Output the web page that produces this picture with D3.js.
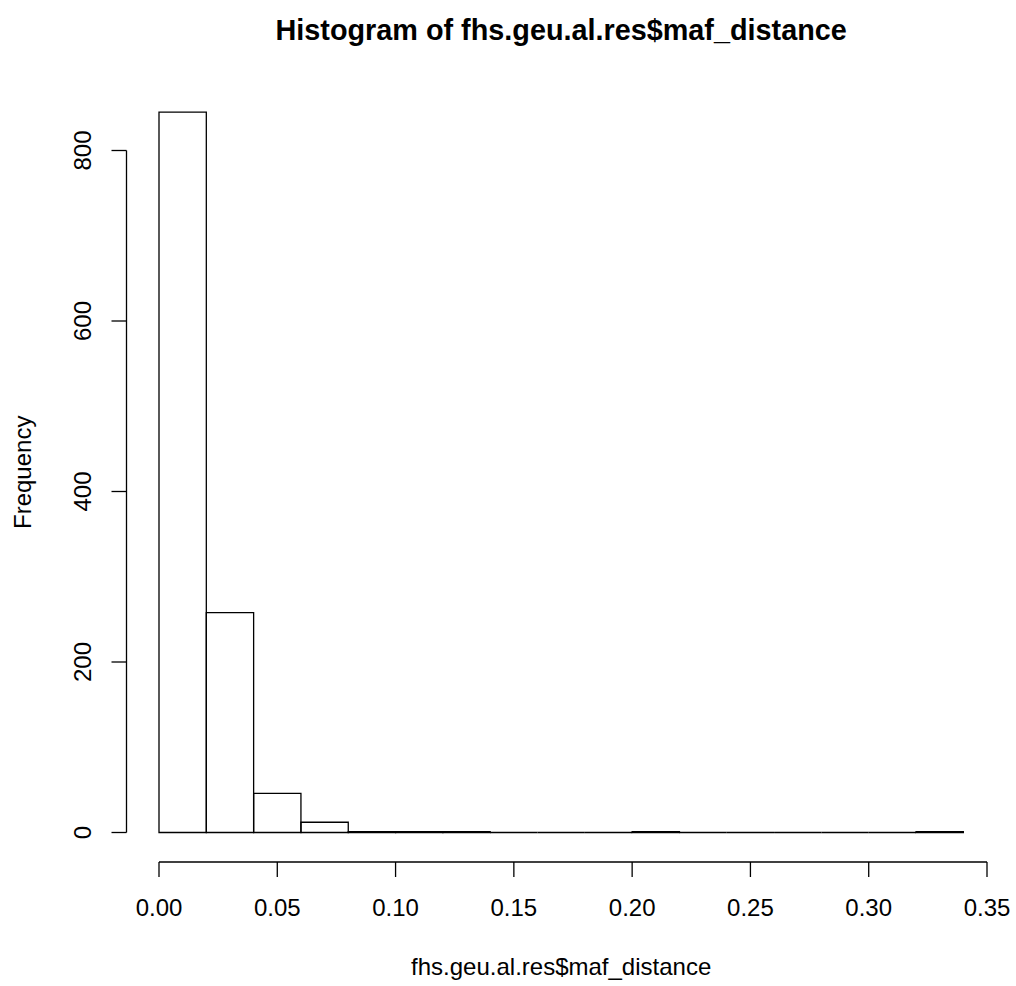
<!DOCTYPE html>
<html>
<head>
<meta charset="utf-8">
<script src="https://cdn.jsdelivr.net/npm/d3@7"></script>
<style>
  body { margin: 0; background: #fff; }
  svg { display: block; font-family: "Liberation Sans", Arial, sans-serif; }
</style>
</head>
<body>
<svg id="chart" width="1016" height="986"></svg>
<script>
// histogram bins (width 0.02) and counts
const binStarts = [0.00, 0.02, 0.04, 0.06, 0.08, 0.10, 0.12, 0.14, 0.16, 0.18, 0.20, 0.22, 0.24, 0.26, 0.28, 0.30, 0.32];
const counts = [845, 258, 46, 12, 1, 1, 1, 0, 0, 0, 1, 0, 0, 0, 0, 0, 1];
const binWidth = 0.02;
const xTicks = [0.00, 0.05, 0.10, 0.15, 0.20, 0.25, 0.30, 0.35];
const yTicks = [0, 200, 400, 600, 800];

const svg = d3.select('#chart');

const x = d3.scaleLinear().domain([0, 0.35]).range([159, 987]);
const y = d3.scaleLinear().domain([0, 800]).range([832.5, 150.5]);

const bins = binStarts.map((s, i) => ({ x0: s, x1: s + binWidth, n: counts[i] }));

// drawn as closed paths so that empty bins still leave a line on the baseline, as R does
svg.append('g')
  .selectAll('path')
  .data(bins)
  .enter().append('path')
  .attr('d', d => {
    const p = d3.path();
    p.rect(x(d.x0), y(d.n), x(d.x1) - x(d.x0), y(0) - y(d.n));
    return p.toString();
  })
  .attr('fill', 'none')
  .attr('stroke', '#000')
  .attr('stroke-width', 1.3);

// x axis
const xAxis = svg.append('g').attr('transform', 'translate(0,862)');
xAxis.append('line')
  .attr('x1', x(0)).attr('x2', x(0.35))
  .attr('stroke', '#000').attr('stroke-width', 1.3);
xAxis.selectAll('.tick')
  .data(xTicks)
  .enter().append('line')
  .attr('x1', d => x(d)).attr('x2', d => x(d))
  .attr('y1', 0).attr('y2', 15)
  .attr('stroke', '#000').attr('stroke-width', 1.3);
xAxis.selectAll('text')
  .data(xTicks)
  .enter().append('text')
  .attr('x', d => x(d))
  .attr('y', 54)
  .attr('text-anchor', 'middle')
  .attr('font-size', 24)
  .text(d => d3.format('.2f')(d));

// y axis
const yAxis = svg.append('g').attr('transform', 'translate(126.5,0)');
yAxis.append('line')
  .attr('y1', y(0)).attr('y2', y(800))
  .attr('stroke', '#000').attr('stroke-width', 1.3);
yAxis.selectAll('.tick')
  .data(yTicks)
  .enter().append('line')
  .attr('y1', d => y(d)).attr('y2', d => y(d))
  .attr('x1', 0).attr('x2', -15)
  .attr('stroke', '#000').attr('stroke-width', 1.3);
yAxis.selectAll('text')
  .data(yTicks)
  .enter().append('text')
  .attr('transform', d => `translate(-35.5,${y(d)}) rotate(-90)`)
  .attr('text-anchor', 'middle')
  .attr('font-size', 24)
  .text(d => d);

// labels (centred on the R plot region, i.e. x = 0.17, y ≈ 422)
svg.append('text')
  .attr('x', x(0.17)).attr('y', 40)
  .attr('text-anchor', 'middle')
  .attr('font-size', 28.8)
  .attr('font-weight', 'bold')
  .text('Histogram of fhs.geu.al.res$maf_distance');

svg.append('text')
  .attr('x', x(0.17)).attr('y', 975)
  .attr('text-anchor', 'middle')
  .attr('font-size', 24)
  .text('fhs.geu.al.res$maf_distance');

svg.append('text')
  .attr('transform', `translate(31,${y(422.5)}) rotate(-90)`)
  .attr('text-anchor', 'middle')
  .attr('font-size', 24)
  .text('Frequency');
</script>
</body>
</html>
